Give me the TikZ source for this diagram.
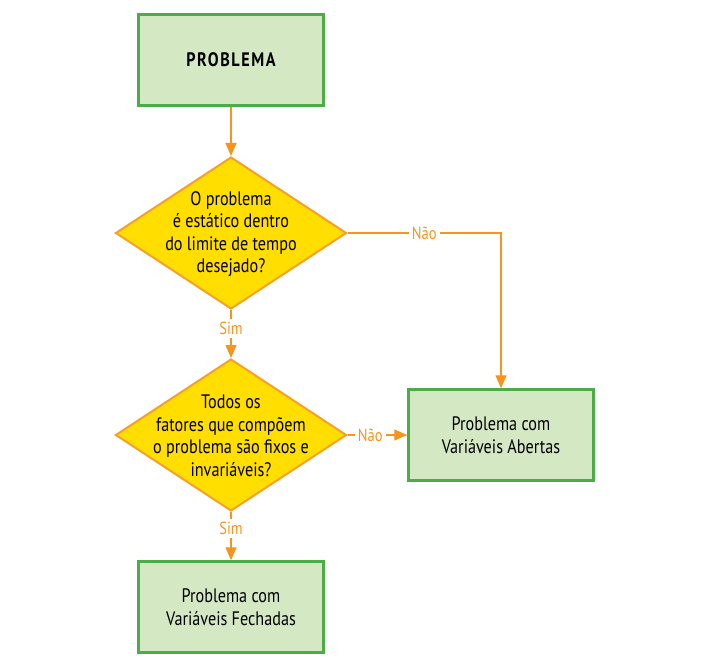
\documentclass[tikz,border=0pt]{standalone}
\usepackage{fontspec}
\setmainfont{PT Sans}[FakeStretch=0.83]
\usepackage{tikz}
\usetikzlibrary{arrows.meta,shapes.geometric}
\definecolor{boxfill}{RGB}{213,232,196}
\definecolor{boxline}{RGB}{76,172,72}
\definecolor{decfill}{RGB}{255,222,0}
\definecolor{decline}{RGB}{247,160,40}
\definecolor{flow}{RGB}{247,148,29}
\tikzstyle{block}=[rectangle, draw=boxline, fill=boxfill, line width=2.5pt, minimum width=185pt, minimum height=91pt, align=center, font=\fontsize{19.5}{23}\selectfont]
\tikzstyle{decision}=[diamond, draw=decline, fill=decfill, line width=2pt, minimum width=231pt, minimum height=152pt, inner sep=0pt]
\tikzstyle{question}=[align=center, inner sep=0pt, font=\fontsize{19.5}{22.5}\selectfont]
\tikzstyle{answer}=[fill=white, text=flow, inner sep=3pt, font=\fontsize{17.5}{20}\selectfont]
\tikzstyle{arrow}=[draw=flow, line width=1.2pt, -{Triangle[length=13pt, width=11pt]}]

\begin{document}
\begin{tikzpicture}[x=1pt, y=-1pt]
		   \useasboundingbox (0,0) rectangle (727,669);
		   \begin{scope}
			   \node (prob) at (231, 60) [block] {\bfseries\addfontfeature{LetterSpace=8}PROBLEMA};
			   \node (d1) at (231, 233) [decision] {};
			   \node (q1) at (231, 234) [question] {O problema\\ é estático dentro\\ do limite de tempo\\ desejado?};
			   \node (d2) at (231, 435) [decision] {};
			   \node (q2) at (231, 436) [question] {Todos os\\ fatores que compõem\\ o problema são fixos e\\ invariáveis?};
			   \node (open) at (501, 435) [block] {Problema com\\ Variáveis Abertas};
			   \node (closed) at (231, 607) [block] {Problema com\\ Variáveis Fechadas};
		   \end{scope}
		   \begin{scope}
			   \path [arrow] (prob) -- (d1);
			   \path [arrow] (d1) -- node[answer, pos=0.38] {Sim} (d2);
			   \path [arrow] (d1.east) -| node[answer, pos=0.25] {Não} (open.north);
			   \path [arrow] (d2.east) -- node[answer, pos=0.38] {Não} (open.west);
			   \path [arrow] (d2) -- node[answer, pos=0.34] {Sim} (closed);
		   \end{scope}
	   \end{tikzpicture}
\end{document}
